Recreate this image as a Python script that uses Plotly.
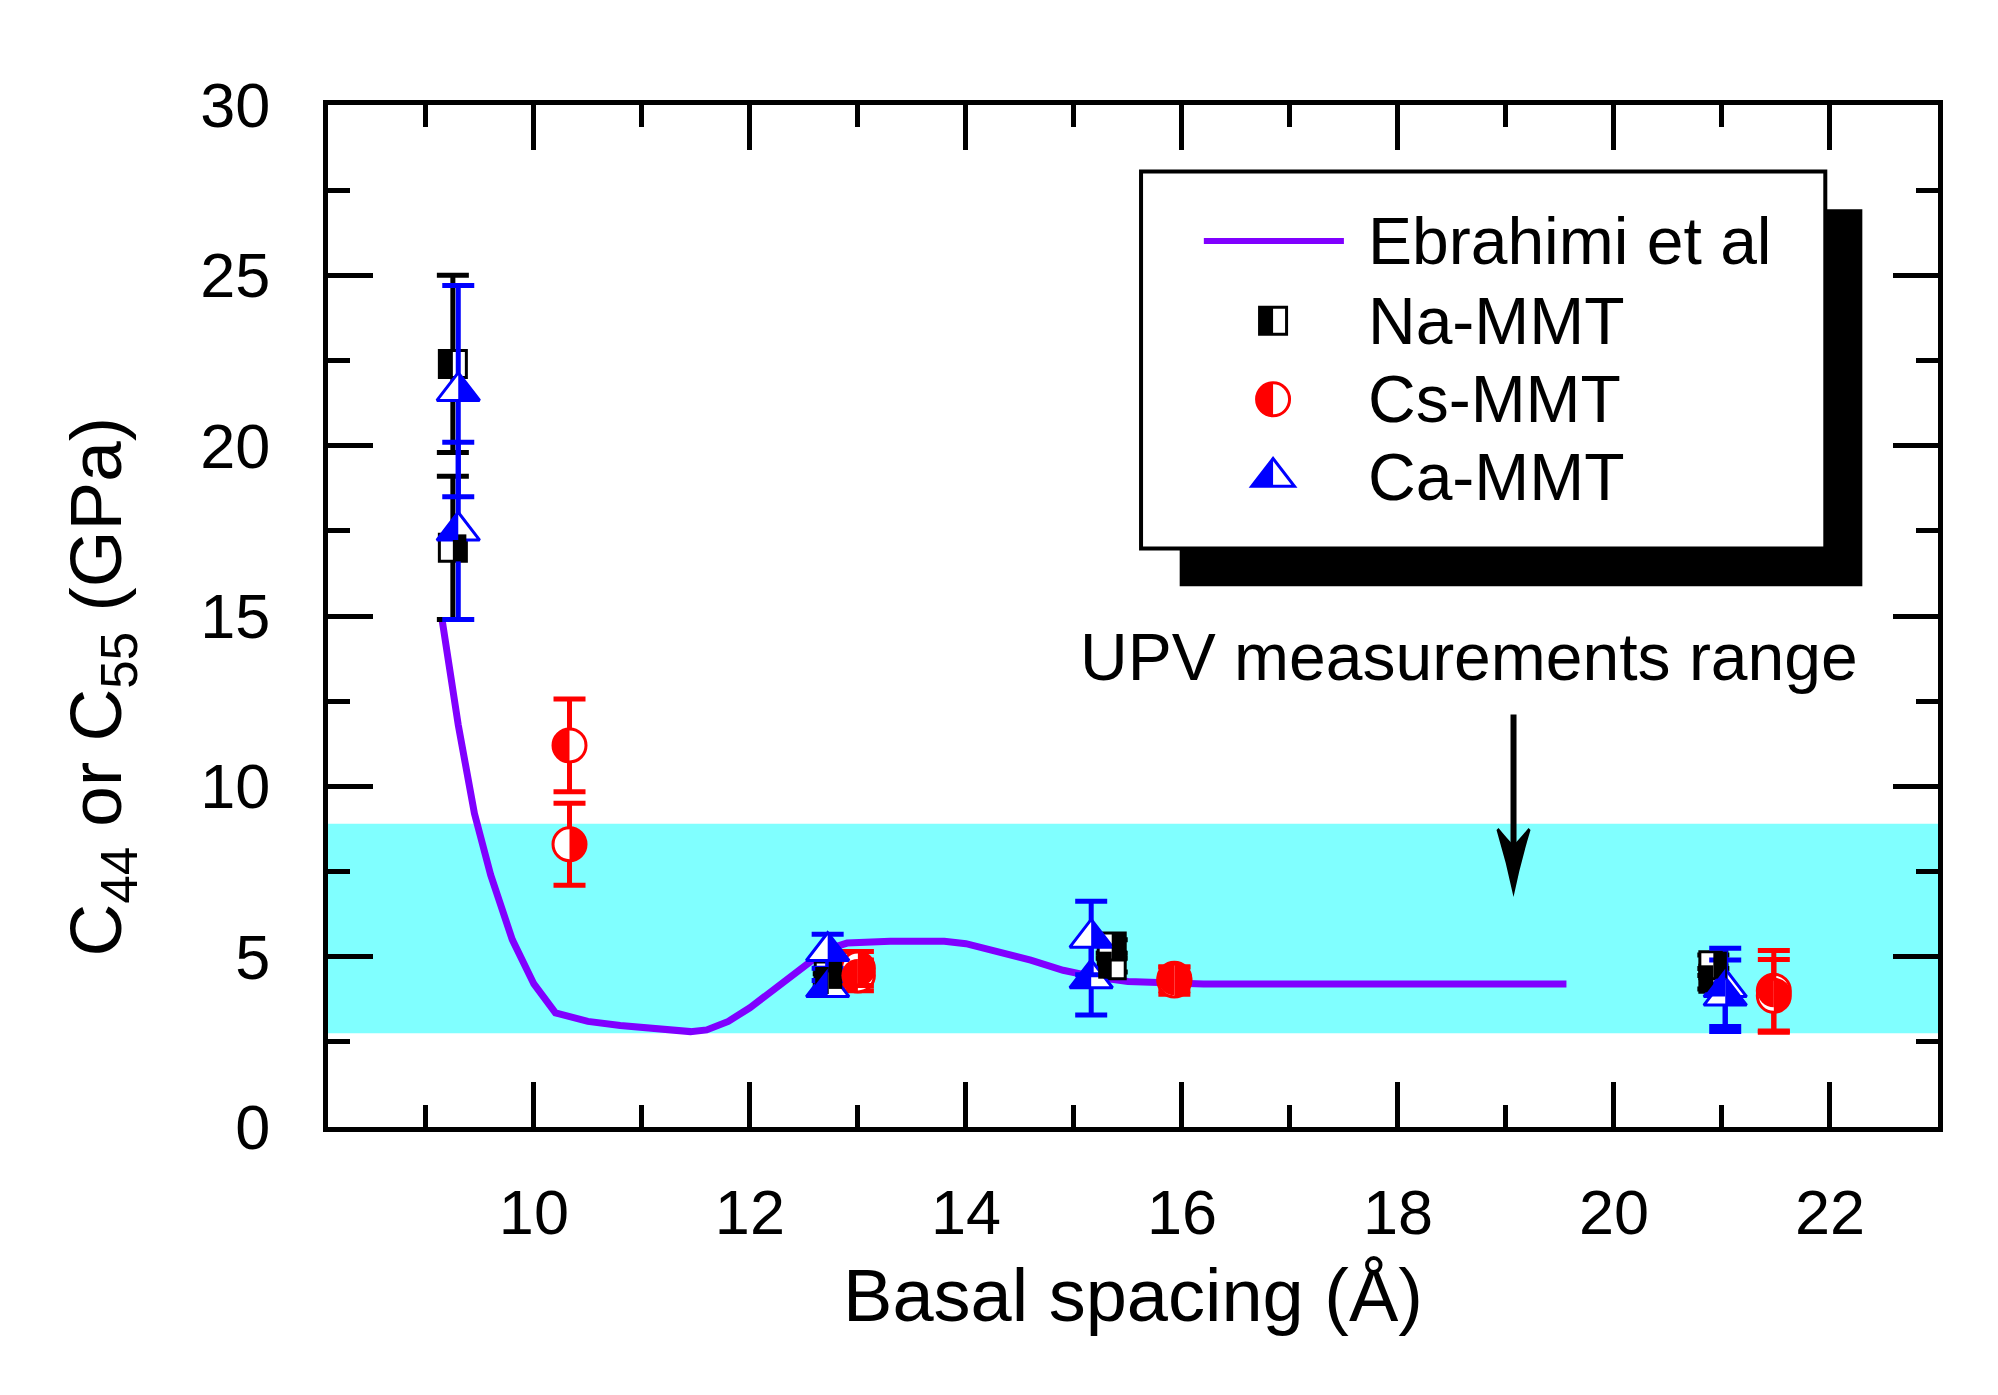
import math
import plotly.graph_objects as go

# Ebrahimi et al curve
curve_x = [9.15, 9.3, 9.45, 9.6, 9.8, 10.0, 10.2, 10.5, 10.8, 11.1, 11.45, 11.6, 11.8, 12.0,
           12.2, 12.4, 12.6, 12.75, 12.9, 13.3, 13.8, 14.0, 14.3, 14.6, 14.9, 15.2,
           15.5, 15.8, 16.2, 17.0, 18.0, 19.56]
curve_y = [14.9, 11.8, 9.2, 7.4, 5.5, 4.2, 3.35, 3.1, 2.98, 2.9, 2.8, 2.85, 3.1, 3.5,
           4.0, 4.5, 4.95, 5.25, 5.4, 5.45, 5.45, 5.38, 5.15, 4.9, 4.6, 4.4,
           4.27, 4.22, 4.2, 4.2, 4.2, 4.2]

# Na-MMT (a = left half filled, b = right half filled)
na_x = [9.25, 12.73, 15.35, 20.92]
na_a = [22.4, 4.3, 4.75, 4.35]
na_a_err = [2.6, 0.2, 0.2, 0.3]
na_b = [17.0, 4.45, 5.3, 4.75]
na_b_err = [2.1, 0.2, 0.2, 0.3]

# Cs-MMT
cs_x = [10.33, 13.0, 15.93, 21.48]
cs_a = [11.2, 4.45, 4.35, 4.0]
cs_a_err = [1.36, 0.45, 0.35, 1.18]
cs_b = [8.3, 4.65, 4.3, 3.85]
cs_b_err = [1.2, 0.5, 0.4, 1.07]

# Ca-MMT
ca_x = [9.3, 12.72, 15.16, 21.03]
ca_a = [17.5, 4.1, 4.36, 4.1]
ca_a_err = [2.6, 0.2, 1.07, 1.15]
ca_b = [21.6, 5.16, 5.55, 3.85]
ca_b_err = [3.1, 0.5, 1.08, 1.05]

# UPV measurement range and its label
upv_low, upv_high = 2.75, 8.9
arrow_x, arrow_top, arrow_tip = 19.07, 12.11, 6.75
label_x, label_y = 18.66, 13.8

FONT = "Liberation Sans, Arial, sans-serif"
SIZE = {'square': 27, 'circle': 33, 'triangle': 37}
PSYM = {'square': 'square', 'circle': 'circle', 'triangle': 'triangle-up'}


def half_path(kind, side):
    s = SIZE[kind]
    g = -1 if side == 'left' else 1
    r = s / 2
    if kind == 'square':
        return f"M{g*r},{-r} L0,{-r} L0,{r} L{g*r},{r} Z"
    if kind == 'circle':
        k = 0.5523 * r
        return (f"M0,{r} C{g*k},{r} {g*r},{k} {g*r},0 "
                f"C{g*r},{-k} {g*k},{-r} 0,{-r} Z")
    rt = r * 2 / math.sqrt(3)
    return f"M0,{r} L{g*rt},{-r/2} L0,{-r/2} Z"


def half_shape(kind, side, xa, ya, color, xref='x', yref='y'):
    return dict(type='path', path=half_path(kind, side), xref=xref, yref=yref,
                xsizemode='pixel', ysizemode='pixel', xanchor=xa, yanchor=ya,
                fillcolor=color, line=dict(width=0), layer='above')


def outline_shape(kind, xa, ya, color):
    r = SIZE[kind] / 2
    base = dict(xref='paper', yref='paper', xsizemode='pixel', ysizemode='pixel',
                xanchor=xa, yanchor=ya, fillcolor='white',
                line=dict(color=color, width=3), layer='above')
    if kind == 'circle':
        return dict(type='circle', x0=-r, x1=r, y0=-r, y1=r, **base)
    if kind == 'square':
        return dict(type='path', path=f"M{-r},{-r} L{r},{-r} L{r},{r} L{-r},{r} Z", **base)
    rt = r * 2 / math.sqrt(3)
    return dict(type='path', path=f"M{-rt},{-r/2} L{rt},{-r/2} L0,{r} Z", **base)


fig = go.Figure()
shapes = []

# band of UPV measurements
shapes.append(dict(type='rect', xref='paper', x0=0, x1=1, yref='y', y0=upv_low, y1=upv_high,
                   fillcolor='#80FFFF', line=dict(width=0), layer='below'))

fig.add_trace(go.Scatter(x=curve_x, y=curve_y, mode='lines',
                         line=dict(color='#8000FF', width=7), showlegend=False))

series = [
    ('square', '#000000', na_x, na_a, na_a_err, na_b, na_b_err),
    ('circle', '#FF0000', cs_x, cs_a, cs_a_err, cs_b, cs_b_err),
    ('triangle', '#0000FF', ca_x, ca_a, ca_a_err, ca_b, ca_b_err),
]
for kind, col, xs, ya, ea, yb, eb in series:
    for side, ys, es in (('left', ya, ea), ('right', yb, eb)):
        fig.add_trace(go.Scatter(
            x=xs, y=ys, mode='markers', showlegend=False,
            marker=dict(symbol=PSYM[kind], size=SIZE[kind], color='white',
                        line=dict(color=col, width=3)),
            error_y=dict(type='data', array=es, color=col, thickness=5, width=16)))
        for xv, yv in zip(xs, ys):
            shapes.append(half_shape(kind, side, xv, yv, col))

# arrow
shapes.append(dict(type='line', xref='x', yref='y', x0=arrow_x, x1=arrow_x,
                   y0=arrow_top, y1=arrow_tip + 1.0, line=dict(color='black', width=6),
                   layer='above'))
shapes.append(dict(type='path', xref='x', yref='y', xsizemode='pixel', ysizemode='pixel',
                   xanchor=arrow_x, yanchor=arrow_tip,
                   path="M0,0 Q-7,34 -17,67 L-15,69 Q-6,58 0,52 Q6,58 15,69 L17,67 Q7,34 0,0 Z",
                   fillcolor='black', line=dict(width=0), layer='above'))

# legend box with shadow
shapes.append(dict(type='rect', xref='paper', yref='paper', x0=0.529, x1=0.953, y0=0.529, y1=0.898,
                   fillcolor='black', line=dict(width=0), layer='above'))
shapes.append(dict(type='rect', xref='paper', yref='paper', x0=0.505, x1=0.930, y0=0.566, y1=0.935,
                   fillcolor='white', line=dict(color='black', width=4), layer='above'))
shapes.append(dict(type='line', xref='paper', yref='paper', x0=0.544, x1=0.631, y0=0.867, y1=0.867,
                   line=dict(color='#8000FF', width=6), layer='above'))
leg_rows = [('square', '#000000', 0.789), ('circle', '#FF0000', 0.712), ('triangle', '#0000FF', 0.636)]
for kind, col, yy in leg_rows:
    shapes.append(outline_shape(kind, 0.587, yy, col))
    shapes.append(half_shape(kind, 'left', 0.587, yy, col, 'paper', 'paper'))

annotations = []
for txt, yy in [('Ebrahimi et al', 0.867), ('Na-MMT', 0.789), ('Cs-MMT', 0.712), ('Ca-MMT', 0.636)]:
    annotations.append(dict(text=txt, xref='paper', yref='paper', x=0.645, y=yy,
                            xanchor='left', yanchor='middle', showarrow=False,
                            font=dict(family=FONT, size=66, color='black')))
annotations.append(dict(text='UPV measurements range', xref='x', yref='y', x=label_x, y=label_y,
                        xanchor='center', yanchor='middle', showarrow=False,
                        font=dict(family=FONT, size=66, color='black')))
annotations.append(dict(text='C<sub>44</sub> or C<sub>55</sub> (GPa)', xref='paper', yref='paper',
                        x=-0.141, y=0.431, xanchor='center', yanchor='middle', textangle=-90,
                        showarrow=False, font=dict(family=FONT, size=73, color='black')))

axis_common = dict(showline=True, linecolor='black', linewidth=5, mirror='allticks',
                   ticks='inside', ticklen=45, tickwidth=4.5, tickcolor='black',
                   showgrid=False, zeroline=False,
                   tickfont=dict(family=FONT, size=63, color='black'))

fig.update_xaxes(range=[8.094, 23.0], tick0=0, dtick=2, ticklabelstandoff=26,
                 minor=dict(ticks='inside', ticklen=22, tickwidth=4.5, tickcolor='black', dtick=1, tick0=0),
                 title=dict(text='Basal spacing (Å)', font=dict(family=FONT, size=74, color='black'),
                            standoff=25),
                 **axis_common)
fig.update_yaxes(range=[0, 30], tick0=0, dtick=5, ticklabelstandoff=40,
                 minor=dict(ticks='inside', ticklen=22, tickwidth=4.5, tickcolor='black', dtick=2.5, tick0=0),
                 **axis_common)

fig.update_layout(width=1998, height=1395, margin=dict(l=320, r=68, t=97, b=276),
                  paper_bgcolor='white', plot_bgcolor='white', showlegend=False,
                  shapes=shapes, annotations=annotations,
                  font=dict(family=FONT, color='black'))

fig.write_html("out.html")
